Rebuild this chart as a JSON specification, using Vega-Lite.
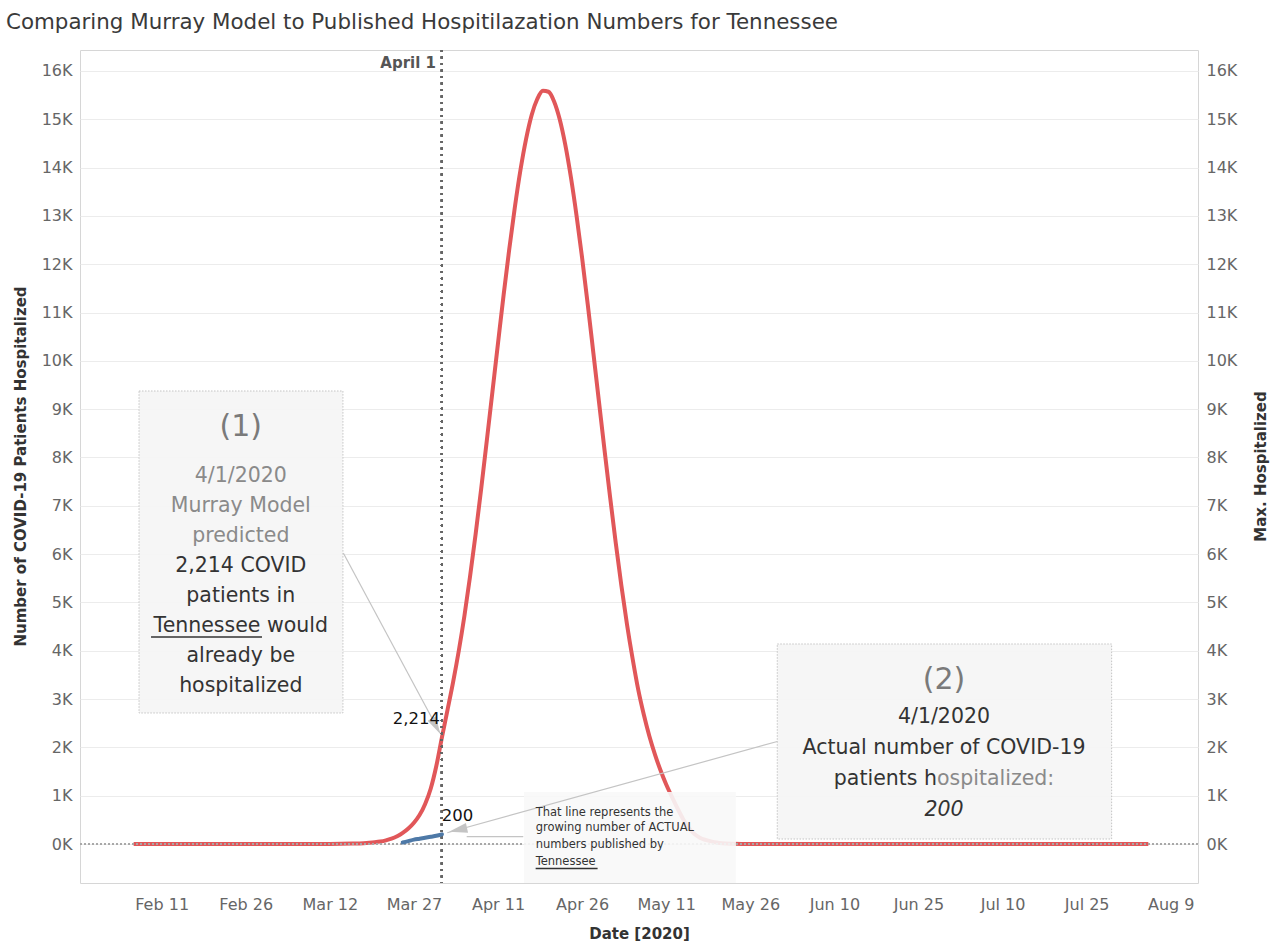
{
  "$schema": "https://vega.github.io/schema/vega-lite/v6.json",
  "width": 1118,
  "height": 833,
  "autosize": {"type": "none"},
  "padding": {"left": 80, "top": 50, "right": 82, "bottom": 63},
  "background": "white",
  "config": {"font": "DejaVu Sans", "view": {"stroke": "#d6d6d6", "strokeWidth": 1}},
  "title": {"text": "Comparing Murray Model to Published Hospitilazation Numbers for Tennessee", "anchor": "start", "frame": "group", "dx": -74, "dy": 21, "offset": 20, "baseline": "alphabetic", "fontSize": 21.4, "fontWeight": "normal", "color": "#3a3a3a", "font": "DejaVu Sans"},
  "datasets": {
    "model": [
      {"date": "2020-02-06", "value": 0}, {"date": "2020-02-20", "value": 0}, {"date": "2020-03-05", "value": 0},
      {"date": "2020-03-12", "value": 2}, {"date": "2020-03-14", "value": 5}, {"date": "2020-03-16", "value": 10},
      {"date": "2020-03-18", "value": 18}, {"date": "2020-03-19", "value": 25}, {"date": "2020-03-20", "value": 35},
      {"date": "2020-03-21", "value": 50}, {"date": "2020-03-22", "value": 75}, {"date": "2020-03-23", "value": 110},
      {"date": "2020-03-24", "value": 160}, {"date": "2020-03-25", "value": 230}, {"date": "2020-03-26", "value": 320},
      {"date": "2020-03-27", "value": 440}, {"date": "2020-03-28", "value": 600}, {"date": "2020-03-29", "value": 830},
      {"date": "2020-03-30", "value": 1150}, {"date": "2020-03-31", "value": 1620}, {"date": "2020-04-01", "value": 2214},
      {"date": "2020-04-02", "value": 2780}, {"date": "2020-04-03", "value": 3360}, {"date": "2020-04-04", "value": 4000},
      {"date": "2020-04-05", "value": 4720}, {"date": "2020-04-06", "value": 5530}, {"date": "2020-04-07", "value": 6410},
      {"date": "2020-04-08", "value": 7360}, {"date": "2020-04-09", "value": 8350}, {"date": "2020-04-10", "value": 9360},
      {"date": "2020-04-11", "value": 10370}, {"date": "2020-04-12", "value": 11370}, {"date": "2020-04-13", "value": 12310},
      {"date": "2020-04-14", "value": 13180}, {"date": "2020-04-15", "value": 13950}, {"date": "2020-04-16", "value": 14590},
      {"date": "2020-04-17", "value": 15090}, {"date": "2020-04-18", "value": 15420}, {"date": "2020-04-19", "value": 15590},
      {"date": "2020-04-20", "value": 15570}, {"date": "2020-04-21", "value": 15370}, {"date": "2020-04-22", "value": 15000},
      {"date": "2020-04-23", "value": 14470}, {"date": "2020-04-24", "value": 13800}, {"date": "2020-04-25", "value": 13010},
      {"date": "2020-04-26", "value": 12130}, {"date": "2020-04-27", "value": 11170}, {"date": "2020-04-28", "value": 10170},
      {"date": "2020-04-29", "value": 9160}, {"date": "2020-04-30", "value": 8150}, {"date": "2020-05-01", "value": 7170},
      {"date": "2020-05-02", "value": 6230}, {"date": "2020-05-03", "value": 5350}, {"date": "2020-05-04", "value": 4550},
      {"date": "2020-05-05", "value": 3840}, {"date": "2020-05-06", "value": 3200}, {"date": "2020-05-07", "value": 2680},
      {"date": "2020-05-08", "value": 2230}, {"date": "2020-05-09", "value": 1850}, {"date": "2020-05-10", "value": 1520},
      {"date": "2020-05-11", "value": 1230}, {"date": "2020-05-12", "value": 980}, {"date": "2020-05-13", "value": 740},
      {"date": "2020-05-14", "value": 520}, {"date": "2020-05-15", "value": 340}, {"date": "2020-05-16", "value": 210},
      {"date": "2020-05-17", "value": 130}, {"date": "2020-05-18", "value": 85}, {"date": "2020-05-19", "value": 55},
      {"date": "2020-05-20", "value": 30}, {"date": "2020-05-21", "value": 15}, {"date": "2020-05-23", "value": 5},
      {"date": "2020-05-26", "value": 0}, {"date": "2020-06-15", "value": 0}, {"date": "2020-07-15", "value": 0},
      {"date": "2020-08-05", "value": 0}
    ],
    "actual": [
      {"date": "2020-03-25", "value": 30}, {"date": "2020-03-26", "value": 60}, {"date": "2020-03-27", "value": 90},
      {"date": "2020-03-28", "value": 110}, {"date": "2020-03-29", "value": 130}, {"date": "2020-03-30", "value": 150},
      {"date": "2020-03-31", "value": 170}, {"date": "2020-04-01", "value": 200}
    ],
    "boxes": [
      {"box": "1", "date": "2020-02-06T23:00:00Z", "date2": "2020-03-14T08:00:00Z", "value": 9376, "value2": 2712},
      {"box": "2", "date": "2020-05-30T19:30:00Z", "date2": "2020-07-29T11:00:00Z", "value": 4140, "value2": 104},
      {"box": "3", "date": "2020-04-15T15:00:00Z", "date2": "2020-05-23T10:30:00Z", "value": 1076, "value2": -807}
    ],
    "underlines": [
      {"date": "2020-02-09T02:25:00Z", "date2": "2020-02-28T21:25:00Z", "value": 4285},
      {"date": "2020-04-17T17:00:00Z", "date2": "2020-04-28T18:15:00Z", "value": -507}
    ],
    "arrows": [
      {"arrow": "1", "date": "2020-03-14T09:35:00Z", "value": 6023},
      {"arrow": "1", "date": "2020-03-31T15:25:00Z", "value": 2297},
      {"arrow": "2", "date": "2020-05-30T19:30:00Z", "value": 2122},
      {"arrow": "2", "date": "2020-04-01T22:45:00Z", "value": 234},
      {"arrow": "3", "date": "2020-04-05T09:50:00Z", "value": 151},
      {"arrow": "3", "date": "2020-04-15T12:00:00Z", "value": 151}
    ],
    "heads": [
      {"arrow": "1", "date": "2020-03-30T22:20:00Z", "value": 2442},
      {"arrow": "2", "date": "2020-04-03T20:30:00Z", "value": 294}
    ],
    "notes": [
      {"kind": "big", "date": "2020-02-25T02:40:00Z", "value": 8631, "text": "(1)"},
      {"kind": "gray", "date": "2020-02-25T02:40:00Z", "value": 7617, "text": "4/1/2020"},
      {"kind": "gray", "date": "2020-02-25T02:40:00Z", "value": 6996, "text": "Murray Model"},
      {"kind": "gray", "date": "2020-02-25T02:40:00Z", "value": 6375, "text": "predicted"},
      {"kind": "dark", "date": "2020-02-25T02:40:00Z", "value": 5754, "text": "2,214 COVID"},
      {"kind": "dark", "date": "2020-02-25T02:40:00Z", "value": 5133, "text": "patients in"},
      {"kind": "dark", "date": "2020-02-25T02:40:00Z", "value": 4512, "text": "Tennessee would"},
      {"kind": "dark", "date": "2020-02-25T02:40:00Z", "value": 3891, "text": "already be"},
      {"kind": "dark", "date": "2020-02-25T02:40:00Z", "value": 3270, "text": "hospitalized"},
      {"kind": "big", "date": "2020-06-29T13:10:00Z", "value": 3395, "text": "(2)"},
      {"kind": "dark", "date": "2020-06-29T13:10:00Z", "value": 2629, "text": "4/1/2020"},
      {"kind": "dark", "date": "2020-06-29T13:10:00Z", "value": 1987, "text": "Actual number of COVID-19"},
      {"kind": "darkRight", "date": "2020-06-28T07:10:00Z", "value": 1345, "text": "patients h"},
      {"kind": "grayLeft", "date": "2020-06-28T07:10:00Z", "value": 1345, "text": "ospitalized:"},
      {"kind": "italic", "date": "2020-06-29T13:10:00Z", "value": 704, "text": "200"},
      {"kind": "small", "date": "2020-04-17T17:00:00Z", "value": 648, "text": "That line represents the"},
      {"kind": "small", "date": "2020-04-17T17:00:00Z", "value": 325, "text": "growing number of ACTUAL"},
      {"kind": "small", "date": "2020-04-17T17:00:00Z", "value": -27, "text": "numbers published by"},
      {"kind": "small", "date": "2020-04-17T17:00:00Z", "value": -379, "text": "Tennessee"},
      {"kind": "labelRight", "date": "2020-03-31T15:25:00Z", "value": 2587, "text": "2,214"},
      {"kind": "labelLeft", "date": "2020-03-31T22:50:00Z", "value": 580, "text": "200"},
      {"kind": "april", "date": "2020-03-30T22:20:00Z", "value": 16158, "text": "April 1"}
    ]
  },
  "resolve": {"scale": {"y": "independent"}},
  "layer": [
    {
      "layer": [
        {
          "data": {"name": "model"},
          "mark": {"type": "line", "color": "#e15759", "strokeWidth": 4, "interpolate": "monotone"},
          "encoding": {
            "x": {"field": "date", "type": "temporal",
              "scale": {"type": "utc", "domain": [{"year": 2020, "month": 1, "date": 27, "hours": 10, "minutes": 20, "utc": true}, {"year": 2020, "month": 8, "date": 13, "hours": 20, "minutes": 40, "utc": true}]},
              "axis": {
                "title": "Date [2020]", "titleFontSize": 15, "titleFontWeight": "bold", "titleColor": "#333333", "titleFont": "DejaVu Sans",
                "titleY": 50, "titleBaseline": "middle",
                "values": [
                  {"year": 2020, "month": 2, "date": 11, "utc": true}, {"year": 2020, "month": 2, "date": 26, "utc": true},
                  {"year": 2020, "month": 3, "date": 12, "utc": true}, {"year": 2020, "month": 3, "date": 27, "utc": true},
                  {"year": 2020, "month": 4, "date": 11, "utc": true}, {"year": 2020, "month": 4, "date": 26, "utc": true},
                  {"year": 2020, "month": 5, "date": 11, "utc": true}, {"year": 2020, "month": 5, "date": 26, "utc": true},
                  {"year": 2020, "month": 6, "date": 10, "utc": true}, {"year": 2020, "month": 6, "date": 25, "utc": true},
                  {"year": 2020, "month": 7, "date": 10, "utc": true}, {"year": 2020, "month": 7, "date": 25, "utc": true},
                  {"year": 2020, "month": 8, "date": 9, "utc": true}
                ],
                "format": "%b %-d", "labelFontSize": 16, "labelColor": "#666666", "labelPadding": 13,
                "ticks": false, "grid": false, "domain": false, "labelFlush": false, "labelOverlap": false
              }
            },
            "y": {"field": "value", "type": "quantitative",
              "scale": {"domain": [-807, 16434], "nice": false, "zero": false},
              "axis": {
                "title": "Number of COVID-19 Patients Hospitalized", "titleFontSize": 15, "titleFontWeight": "bold", "titleColor": "#333333",
                "titleX": -60, "titleY": 416, "titleAngle": -90, "titleAlign": "center", "titleBaseline": "middle",
                "values": [0, 1000, 2000, 3000, 4000, 5000, 6000, 7000, 8000, 9000, 10000, 11000, 12000, 13000, 14000, 15000, 16000],
                "labelExpr": "(datum.value / 1000) + 'K'", "labelFontSize": 16, "labelColor": "#666666", "labelPadding": 8,
                "ticks": false, "domain": false, "grid": true, "gridColor": "#ececec", "labelFlush": false
              }
            }
          }
        },
        {
          "data": {"name": "model"},
          "mark": {"type": "rule", "color": "#a8a8a8", "strokeWidth": 1, "strokeDash": [2, 2]},
          "encoding": {"y": {"datum": 0, "type": "quantitative"}}
        },
        {
          "data": {"name": "model"},
          "mark": {"type": "rule", "color": "#666666", "strokeWidth": 2, "strokeDash": [2, 4.5]},
          "encoding": {"x": {"datum": {"year": 2020, "month": 4, "date": 1, "utc": true}, "type": "temporal"}}
        },
        {
          "data": {"name": "model"},
          "transform": [{"filter": "datum.date == '2020-04-01'"}],
          "mark": {"type": "point", "filled": true, "color": "#c9383a", "size": 30, "opacity": 1},
          "encoding": {"x": {"field": "date", "type": "temporal"}, "y": {"field": "value", "type": "quantitative"}}
        },
        {
          "data": {"name": "boxes"},
          "transform": [{"filter": "datum.box != '3'"}],
          "mark": {"type": "rect", "fill": "#f6f6f6", "fillOpacity": 0.95, "stroke": "#c4c4c4", "strokeWidth": 1, "strokeDash": [1.5, 1.5]},
          "encoding": {
            "x": {"field": "date", "type": "temporal"}, "x2": {"field": "date2"},
            "y": {"field": "value", "type": "quantitative"}, "y2": {"field": "value2"}
          }
        },
        {
          "data": {"name": "boxes"},
          "transform": [{"filter": "datum.box == '3'"}],
          "mark": {"type": "rect", "fill": "#f8f8f8", "fillOpacity": 0.9},
          "encoding": {
            "x": {"field": "date", "type": "temporal"}, "x2": {"field": "date2"},
            "y": {"field": "value", "type": "quantitative"}, "y2": {"field": "value2"}
          }
        },
        {
          "data": {"name": "arrows"},
          "mark": {"type": "line", "color": "#c4c4c4", "strokeWidth": 1.2},
          "encoding": {
            "x": {"field": "date", "type": "temporal"}, "y": {"field": "value", "type": "quantitative"},
            "detail": {"field": "arrow"}
          }
        },
        {
          "data": {"name": "heads"},
          "transform": [{"filter": "datum.arrow == '1'"}],
          "mark": {"type": "point", "shape": "M0,-1L0.55,1L-0.55,1Z", "filled": true, "color": "#c4c4c4", "opacity": 1, "size": 300, "angle": 151.7},
          "encoding": {"x": {"field": "date", "type": "temporal"}, "y": {"field": "value", "type": "quantitative"}}
        },
        {
          "data": {"name": "heads"},
          "transform": [{"filter": "datum.arrow == '2'"}],
          "mark": {"type": "point", "shape": "M0,-1L0.55,1L-0.55,1Z", "filled": true, "color": "#c4c4c4", "opacity": 1, "size": 340, "angle": 258},
          "encoding": {"x": {"field": "date", "type": "temporal"}, "y": {"field": "value", "type": "quantitative"}}
        },
        {
          "data": {"name": "underlines"},
          "mark": {"type": "rule", "color": "#333333", "strokeWidth": 1.3},
          "encoding": {
            "x": {"field": "date", "type": "temporal"}, "x2": {"field": "date2"},
            "y": {"field": "value", "type": "quantitative"}
          }
        },
        {
          "data": {"name": "notes"},
          "transform": [{"filter": "datum.kind == 'big'"}],
          "mark": {"type": "text", "align": "center", "baseline": "middle", "fontSize": 30, "color": "#7a7a7a"},
          "encoding": {"x": {"field": "date", "type": "temporal"}, "y": {"field": "value", "type": "quantitative"}, "text": {"field": "text"}}
        },
        {
          "data": {"name": "notes"},
          "transform": [{"filter": "datum.kind == 'gray'"}],
          "mark": {"type": "text", "align": "center", "baseline": "middle", "fontSize": 20.5, "color": "#8a8a8a"},
          "encoding": {"x": {"field": "date", "type": "temporal"}, "y": {"field": "value", "type": "quantitative"}, "text": {"field": "text"}}
        },
        {
          "data": {"name": "notes"},
          "transform": [{"filter": "datum.kind == 'dark'"}],
          "mark": {"type": "text", "align": "center", "baseline": "middle", "fontSize": 20.5, "color": "#333333"},
          "encoding": {"x": {"field": "date", "type": "temporal"}, "y": {"field": "value", "type": "quantitative"}, "text": {"field": "text"}}
        },
        {
          "data": {"name": "notes"},
          "transform": [{"filter": "datum.kind == 'darkRight'"}],
          "mark": {"type": "text", "align": "right", "baseline": "middle", "fontSize": 20.5, "color": "#333333"},
          "encoding": {"x": {"field": "date", "type": "temporal"}, "y": {"field": "value", "type": "quantitative"}, "text": {"field": "text"}}
        },
        {
          "data": {"name": "notes"},
          "transform": [{"filter": "datum.kind == 'grayLeft'"}],
          "mark": {"type": "text", "align": "left", "baseline": "middle", "fontSize": 20.5, "color": "#8a8a8a"},
          "encoding": {"x": {"field": "date", "type": "temporal"}, "y": {"field": "value", "type": "quantitative"}, "text": {"field": "text"}}
        },
        {
          "data": {"name": "notes"},
          "transform": [{"filter": "datum.kind == 'italic'"}],
          "mark": {"type": "text", "align": "center", "baseline": "middle", "fontSize": 20.5, "fontStyle": "italic", "color": "#333333"},
          "encoding": {"x": {"field": "date", "type": "temporal"}, "y": {"field": "value", "type": "quantitative"}, "text": {"field": "text"}}
        },
        {
          "data": {"name": "notes"},
          "transform": [{"filter": "datum.kind == 'small'"}],
          "mark": {"type": "text", "align": "left", "baseline": "middle", "fontSize": 11.5, "color": "#333333"},
          "encoding": {"x": {"field": "date", "type": "temporal"}, "y": {"field": "value", "type": "quantitative"}, "text": {"field": "text"}}
        },
        {
          "data": {"name": "notes"},
          "transform": [{"filter": "datum.kind == 'labelRight'"}],
          "mark": {"type": "text", "align": "right", "baseline": "middle", "fontSize": 16.5, "color": "#111111"},
          "encoding": {"x": {"field": "date", "type": "temporal"}, "y": {"field": "value", "type": "quantitative"}, "text": {"field": "text"}}
        },
        {
          "data": {"name": "notes"},
          "transform": [{"filter": "datum.kind == 'labelLeft'"}],
          "mark": {"type": "text", "align": "left", "baseline": "middle", "fontSize": 16.5, "color": "#111111"},
          "encoding": {"x": {"field": "date", "type": "temporal"}, "y": {"field": "value", "type": "quantitative"}, "text": {"field": "text"}}
        },
        {
          "data": {"name": "notes"},
          "transform": [{"filter": "datum.kind == 'april'"}],
          "mark": {"type": "text", "align": "right", "baseline": "middle", "fontSize": 15, "fontWeight": "bold", "color": "#555555"},
          "encoding": {"x": {"field": "date", "type": "temporal"}, "y": {"field": "value", "type": "quantitative"}, "text": {"field": "text"}}
        }
      ]
    },
    {
      "layer": [
        {
          "data": {"name": "actual"},
          "mark": {"type": "line", "color": "#4e79a7", "strokeWidth": 4, "interpolate": "monotone", "strokeCap": "round"},
          "encoding": {
            "x": {"field": "date", "type": "temporal"},
            "y": {"field": "value", "type": "quantitative",
              "scale": {"domain": [-807, 16434], "nice": false, "zero": false},
              "axis": {
                "orient": "right", "title": "Max. Hospitalized", "titleFontSize": 15, "titleFontWeight": "bold", "titleColor": "#333333",
                "titleX": 62, "titleY": 416, "titleAngle": -90, "titleAlign": "center", "titleBaseline": "middle",
                "values": [0, 1000, 2000, 3000, 4000, 5000, 6000, 7000, 8000, 9000, 10000, 11000, 12000, 13000, 14000, 15000, 16000],
                "labelExpr": "(datum.value / 1000) + 'K'", "labelFontSize": 16, "labelColor": "#666666", "labelPadding": 8,
                "ticks": false, "domain": false, "grid": false, "labelFlush": false
              }
            }
          }
        },
        {
          "data": {"name": "actual"},
          "transform": [{"filter": "datum.date == '2020-04-01'"}],
          "mark": {"type": "point", "filled": true, "fill": "white", "stroke": "#4e79a7", "strokeWidth": 2, "size": 35, "opacity": 1},
          "encoding": {"x": {"field": "date", "type": "temporal"}, "y": {"field": "value", "type": "quantitative"}}
        }
      ]
    }
  ]
}
